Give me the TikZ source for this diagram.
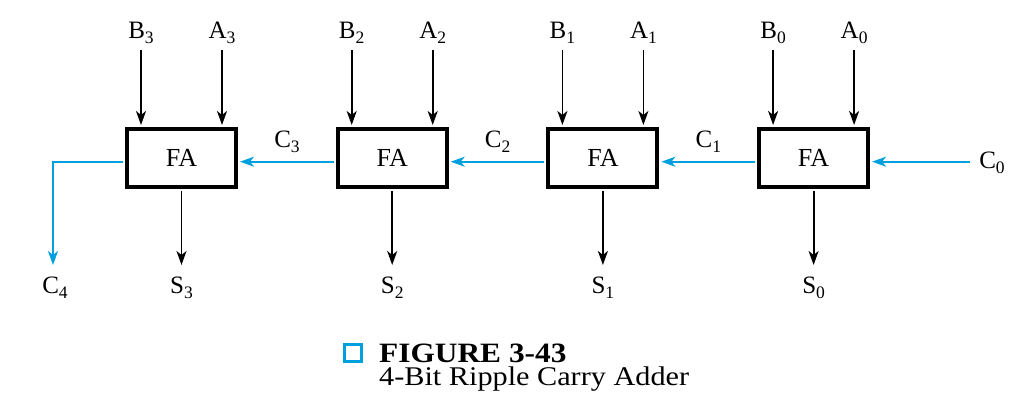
\documentclass[tikz,border=0pt]{standalone}
\usepackage{fontspec}
\setmainfont{Liberation Serif}
\newfontfamily\capfont[FakeStretch=1.12]{Liberation Serif}
\usetikzlibrary{arrows.meta}
\definecolor{carry}{RGB}{0,160,222}
\newcommand{\sig}[2]{#1\raisebox{-5pt}{\fontsize{17.5}{18}\selectfont #2}}
\begin{document}
\begin{tikzpicture}[x=1pt,y=-1pt,
  lab/.style={font=\fontsize{25}{26}\selectfont, inner sep=0pt, anchor=base},
  fabox/.style={draw, line width=4pt, minimum width=109pt, minimum height=58pt, inner sep=0pt, font=\fontsize{26}{26}\selectfont},
  sigarrow/.style={line width=1.8pt, -{Stealth[length=14pt,width=10pt,inset=4pt]}},
  carryarrow/.style={sigarrow, draw=carry, color=carry}
]
\fill[white] (0,0) rectangle (1033,408);
\useasboundingbox (0,0) rectangle (1033,408);

% full adders
\node[fabox] (fa3) at (181.5,158) {FA};
\node[fabox] (fa2) at (392.2,158) {FA};
\node[fabox] (fa1) at (602.9,158) {FA};
\node[fabox] (fa0) at (813.6,158) {FA};

% inputs
\node[lab] (b3) at (141,38) {\sig{B}{3}};
\node[lab] (a3) at (222,38) {\sig{A}{3}};
\node[lab] (b2) at (351.7,38) {\sig{B}{2}};
\node[lab] (a2) at (432.7,38) {\sig{A}{2}};
\node[lab] (b1) at (562.4,38) {\sig{B}{1}};
\node[lab] (a1) at (643.4,38) {\sig{A}{1}};
\node[lab] (b0) at (773.1,38) {\sig{B}{0}};
\node[lab] (a0) at (854.1,38) {\sig{A}{0}};

% sums
\node[lab] (s3) at (181.5,293) {\sig{S}{3}};
\node[lab] (s2) at (392.2,293) {\sig{S}{2}};
\node[lab] (s1) at (602.9,293) {\sig{S}{1}};
\node[lab] (s0) at (813.6,293) {\sig{S}{0}};

% carries
\node[lab] (c4) at (55,293) {\sig{C}{4}};
\node[lab] (c3) at (287,147) {\sig{C}{3}};
\node[lab] (c2) at (497.7,147) {\sig{C}{2}};
\node[lab] (c1) at (708.4,147) {\sig{C}{1}};
\node[lab] (c0) at (992,168) {\sig{C}{0}};
\coordinate (cin) at (970,161.7);

\foreach \x/\f in {b3/fa3,a3/fa3,b2/fa2,a2/fa2,b1/fa1,a1/fa1,b0/fa0,a0/fa0}{
  \draw[sigarrow] ([yshift=-12pt]\x.base) -- ([yshift=2pt]\x.base |- \f.north);
}
\foreach \f/\s in {fa3/s3,fa2/s2,fa1/s1,fa0/s0}{
  \draw[sigarrow] ([yshift=-2pt]\f.south) -- ([yshift=28pt]\f.south |- \s.base);
}

\draw[carryarrow] (cin) -- ([yshift=-3.7pt,xshift=2pt]fa0.east);
\draw[carryarrow] ([yshift=-3.7pt,xshift=-2pt]fa0.west) -- ([yshift=-3.7pt,xshift=2pt]fa1.east);
\draw[carryarrow] ([yshift=-3.7pt,xshift=-2pt]fa1.west) -- ([yshift=-3.7pt,xshift=2pt]fa2.east);
\draw[carryarrow] ([yshift=-3.7pt,xshift=-2pt]fa2.west) -- ([yshift=-3.7pt,xshift=2pt]fa3.east);
\draw[carryarrow] ([yshift=-3.7pt,xshift=-2pt]fa3.west) -| ([yshift=28pt,xshift=-2pt]c4.base);

% caption
\node[draw=carry, line width=3pt, minimum size=17pt, inner sep=0pt] (sq) at (353,353) {};
\node[anchor=base west, inner sep=0pt, font=\capfont\bfseries\fontsize{28}{28}\selectfont] (fig) at (379,362) {FIGURE 3-43};
\node[anchor=base west, inner sep=0pt, font=\capfont\fontsize{27}{27}\selectfont] (title) at (379,385) {4-Bit Ripple Carry Adder};
\end{tikzpicture}
\end{document}
